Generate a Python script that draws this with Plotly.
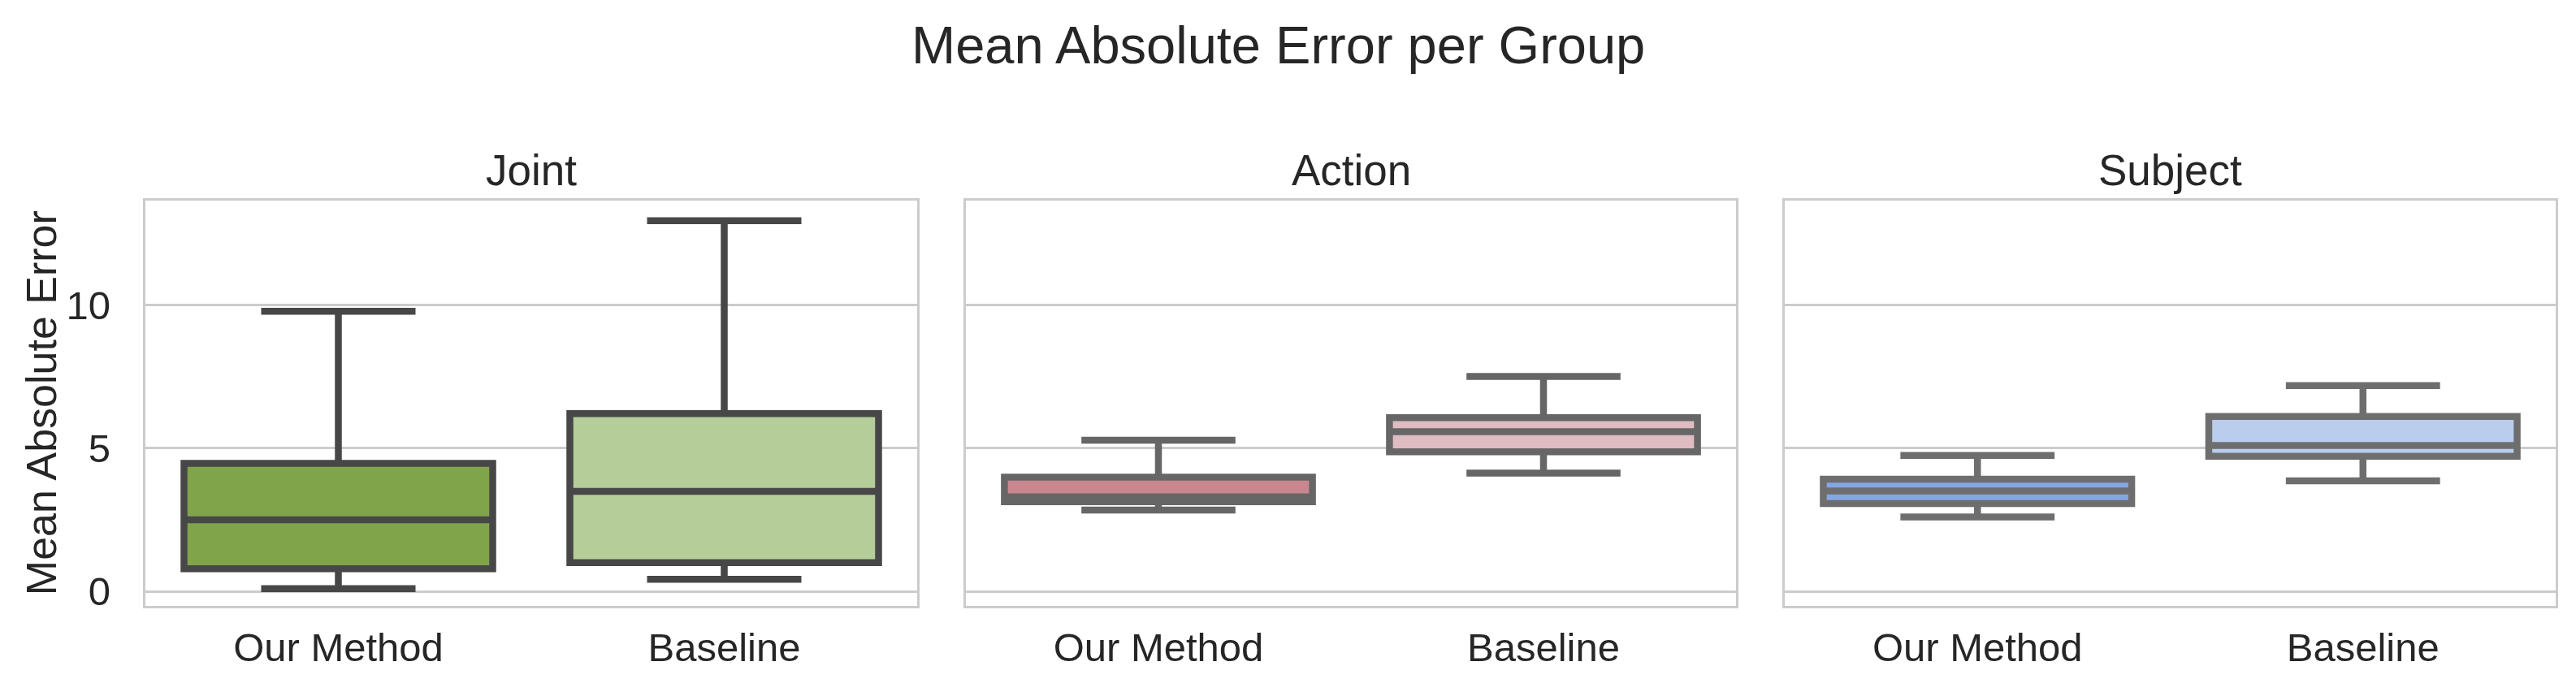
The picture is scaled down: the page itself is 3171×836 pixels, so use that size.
import plotly.graph_objects as go

# ---- data ----
groups = ["Joint", "Action", "Subject"]
methods = ["Our Method", "Baseline"]

lower_whisker = [0.09, 0.42, 2.84, 4.13, 2.60, 3.86]
q1_values = [0.79, 1.00, 3.13, 4.88, 3.07, 4.72]
median_values = [2.50, 3.49, 3.30, 5.58, 3.51, 5.10]
q3_values = [4.47, 6.21, 3.99, 6.07, 3.92, 6.11]
upper_whisker = [9.79, 12.96, 5.28, 7.51, 4.75, 7.19]

fill_colors = ["#7fa44a", "#b5cd98", "#c9868f", "#dfbbc2", "#84a7e4", "#bacdec"]
line_colors = ["#474747", "#666666", "#6e6e6e"]

y_ticks = [0, 5, 10]
y_range = [-0.51, 13.65]
y_title = "Mean Absolute Error"
main_title = "Mean Absolute Error per Group"

# ---- layout geometry ----
W, H = 3171, 836
panel_px = [(171, 1121), (1181, 2129), (2189, 3138)]
top_px, bottom_px = 242, 746
FONT = "Liberation Sans, Arial, Helvetica, sans-serif"
TXT = "#262626"

fig = go.Figure()

for g_i, g in enumerate(groups):
    for m_i, m in enumerate(methods):
        k = g_i * 2 + m_i
        suffix = "" if g_i == 0 else str(g_i + 1)
        fig.add_trace(go.Box(
            x=[m],
            q1=[q1_values[k]],
            median=[median_values[k]],
            q3=[q3_values[k]],
            lowerfence=[lower_whisker[k]],
            upperfence=[upper_whisker[k]],
            width=0.8,
            whiskerwidth=0.5,
            fillcolor=fill_colors[k],
            line=dict(color=line_colors[g_i], width=8.5),
            boxpoints=False,
            showlegend=False,
            name=f"{g} - {m}",
            xaxis="x" + suffix,
            yaxis="y" + suffix,
        ))

layout = dict(
    width=W, height=H,
    margin=dict(l=0, r=0, t=0, b=0),
    paper_bgcolor="white",
    plot_bgcolor="white",
    boxmode="overlay",
    font=dict(family=FONT, color=TXT, size=49),
    showlegend=False,
)

y_dom = [1 - bottom_px / H, 1 - top_px / H]
for i, (l, r) in enumerate(panel_px):
    suffix = "" if i == 0 else str(i + 1)
    layout["xaxis" + suffix] = dict(
        domain=[l / W, r / W],
        anchor="y" + suffix,
        type="category",
        categoryorder="array",
        categoryarray=methods,
        range=[-0.5, 1.5],
        showgrid=False,
        zeroline=False,
        showline=True, mirror=True, linecolor="#cccccc", linewidth=3.3,
        ticks="",
        tickfont=dict(size=49, color=TXT, family=FONT),
        ticklabelstandoff=6,
    )
    ydict = dict(
        domain=y_dom,
        anchor="x" + suffix,
        range=y_range,
        tickvals=y_ticks,
        showgrid=True, gridcolor="#cccccc", gridwidth=3.3,
        zeroline=False,
        showline=True, mirror=True, linecolor="#cccccc", linewidth=3.3,
        ticks="",
        tickfont=dict(size=49, color=TXT, family=FONT),
        showticklabels=(i == 0),
        ticklabelstandoff=30,
    )
    if i > 0:
        ydict["matches"] = "y"
    layout["yaxis" + suffix] = ydict

annotations = [
    dict(text=main_title, x=1565 / W, y=1 - 48.5 / H, xref="paper", yref="paper",
         xanchor="center", yanchor="middle", showarrow=False,
         font=dict(size=65, color=TXT, family=FONT)),
    dict(text=y_title, x=42.5 / W, y=1 - ((top_px + bottom_px) / 2) / H,
         xref="paper", yref="paper", xanchor="center", yanchor="middle",
         textangle=-90, showarrow=False,
         font=dict(size=52, color=TXT, family=FONT)),
]
for i, g in enumerate(groups):
    l, r = panel_px[i]
    annotations.append(dict(
        text=g, x=((l + r) / 2) / W, y=1 - 204 / H, xref="paper", yref="paper",
        xanchor="center", yanchor="middle", showarrow=False,
        font=dict(size=53, color=TXT, family=FONT)))
layout["annotations"] = annotations

fig.update_layout(**layout)
fig.write_html("out.html")
